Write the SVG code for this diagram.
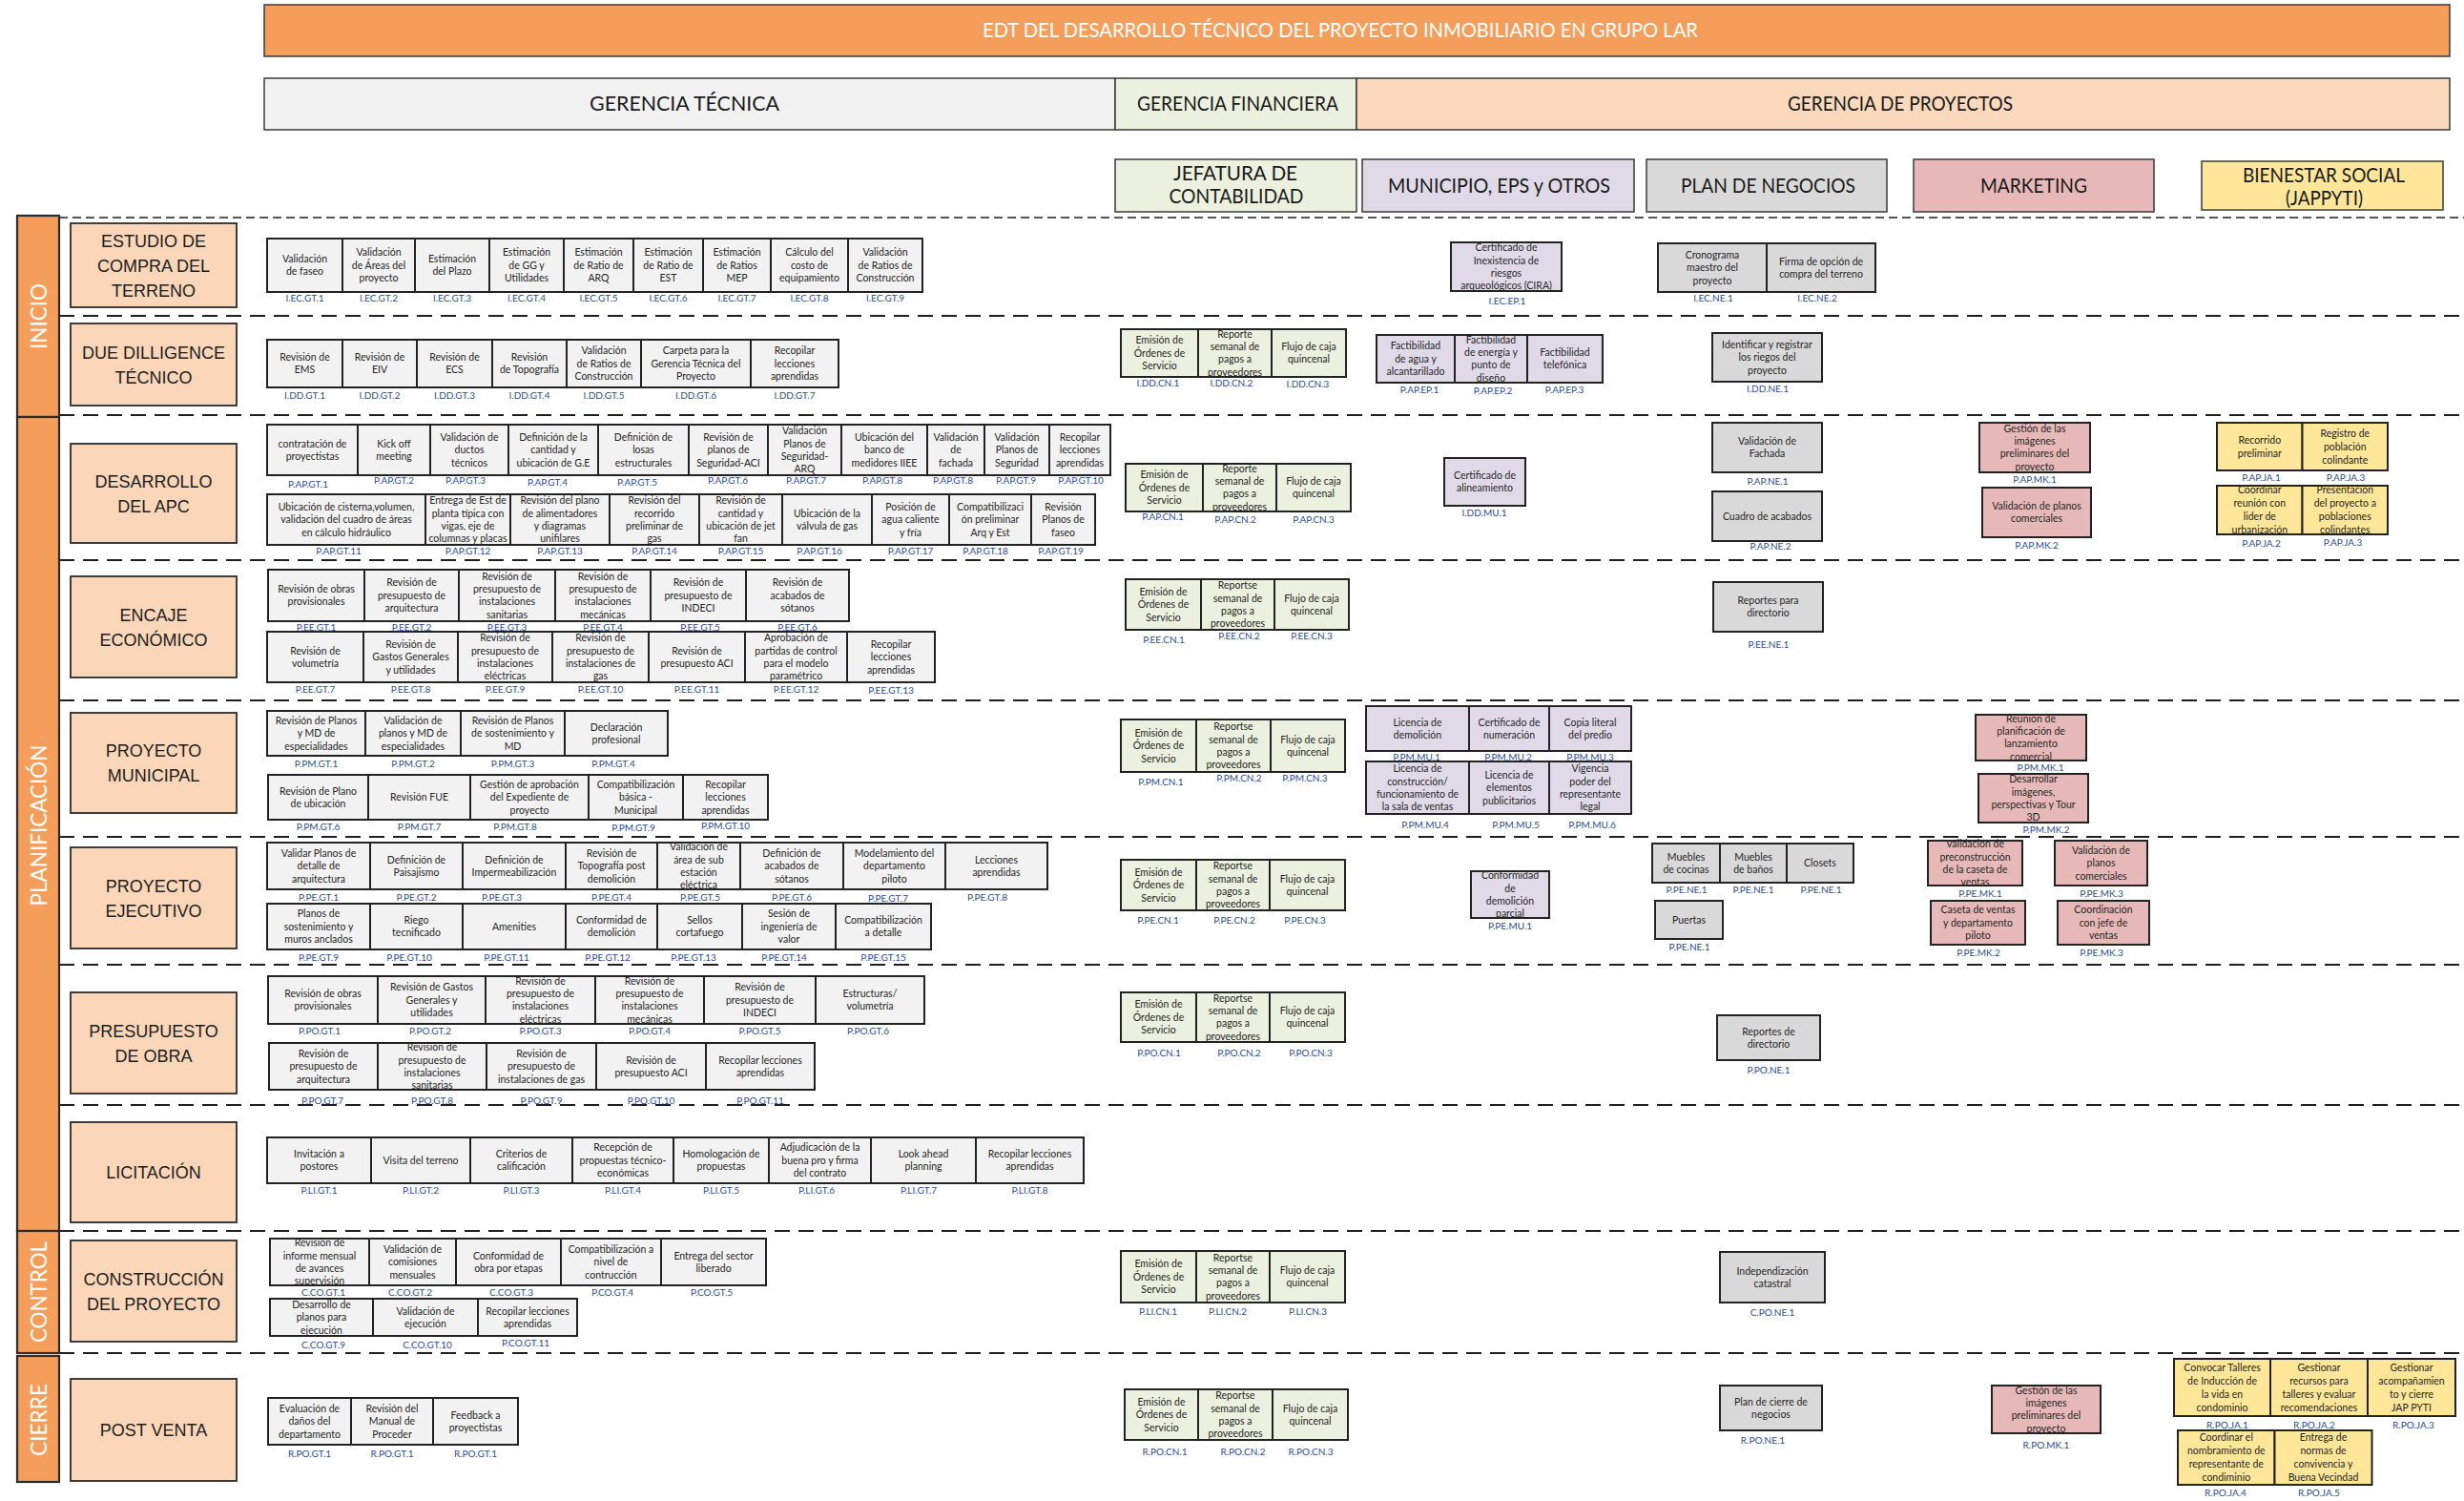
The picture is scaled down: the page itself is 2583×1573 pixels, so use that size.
<svg xmlns="http://www.w3.org/2000/svg" width="2583" height="1573" viewBox="0 0 2583 1573">
<style>
text{font-family:Lato,'Liberation Sans',sans-serif}
.lane{fill:none;stroke:#1f1f1f;stroke-width:2;stroke-dasharray:16 9}
.lane0{fill:none;stroke:#1f1f1f;stroke-width:1.6;stroke-dasharray:9 5}
.n rect{stroke:#222;stroke-width:2}
.gt rect{fill:#F2F2F2}
.cn rect{fill:#EBF1DE}
.mu rect{fill:#E0DAE8}
.ne rect{fill:#D9D9D9}
.mk rect{fill:#E6B9B8}
.ja rect{fill:#FFE699}
.t{font-size:10.5px;fill:#262626;text-anchor:middle}
.c{font-size:10px;fill:#2E4C8F;text-anchor:middle}
.bar rect{fill:#F59E5B;stroke:#2b2b2b;stroke-width:2.2}
.bar text{font-size:24px;fill:#fff;text-anchor:middle}
.ph rect{fill:#FBD6B8;stroke:#2b2b2b;stroke-width:1.8}
.ph text{font-family:'Liberation Sans',Arial,sans-serif;font-size:18px;fill:#1e1e1e;text-anchor:middle}
.hd rect{stroke:#3a3a3a;stroke-width:1.5}
.hd text{font-size:21px;fill:#1a1a1a;text-anchor:middle}
</style>
<rect width="2583" height="1573" fill="#fff"/>

<!-- headers -->
<g id="title" class="hd"><rect x="277" y="5" width="2291" height="54" fill="#F59E5B"/><text x="1405" y="39" textLength="750" lengthAdjust="spacingAndGlyphs" style="fill:#fff">EDT DEL DESARROLLO TÉCNICO DEL PROYECTO INMOBILIARIO EN GRUPO LAR</text></g>
<g id="h-gt" class="hd"><rect x="277" y="82" width="892" height="54" fill="#F2F2F2"/><text x="717.5" y="116" textLength="199" lengthAdjust="spacingAndGlyphs">GERENCIA TÉCNICA</text></g>
<g id="h-gf" class="hd"><rect x="1169" y="82" width="253" height="54" fill="#EBF1DE"/><text x="1297.5" y="116" textLength="211" lengthAdjust="spacingAndGlyphs">GERENCIA FINANCIERA</text></g>
<g id="h-gp" class="hd"><rect x="1422" y="82" width="1146" height="54" fill="#FAD9BD"/><text x="1992" y="116" textLength="236" lengthAdjust="spacingAndGlyphs">GERENCIA DE PROYECTOS</text></g>
<g id="h-cn" class="hd"><rect x="1169" y="167" width="253" height="55" fill="#EBF1DE"/><text x="1295" y="189" textLength="130" lengthAdjust="spacingAndGlyphs">JEFATURA DE</text><text x="1296" y="213" textLength="141" lengthAdjust="spacingAndGlyphs">CONTABILIDAD</text></g>
<g id="h-mu" class="hd"><rect x="1428" y="167" width="285" height="55" fill="#E0DAE8"/><text x="1571.5" y="201.5" textLength="233" lengthAdjust="spacingAndGlyphs">MUNICIPIO, EPS y OTROS</text></g>
<g id="h-ne" class="hd"><rect x="1726" y="167" width="252" height="55" fill="#D9D9D9"/><text x="1853.5" y="201.5" textLength="183" lengthAdjust="spacingAndGlyphs">PLAN DE NEGOCIOS</text></g>
<g id="h-mk" class="hd"><rect x="2006" y="167" width="252" height="55" fill="#E6B9B8"/><text x="2132" y="201.5" textLength="112" lengthAdjust="spacingAndGlyphs">MARKETING</text></g>
<g id="h-ja" class="hd"><rect x="2308" y="169" width="253" height="51" fill="#FFE699"/><text x="2436" y="190.5" textLength="170" lengthAdjust="spacingAndGlyphs">BIENESTAR SOCIAL</text><text x="2436.5" y="214.5" textLength="81" lengthAdjust="spacingAndGlyphs">(JAPPYTI)</text></g>

<!-- swimlane separators -->
<g id="lanes">
<line class="lane0" x1="62" y1="228" x2="2583" y2="228"/>
<line class="lane" x1="62" y1="331" x2="2583" y2="331"/>
<line class="lane" x1="62" y1="435" x2="2583" y2="435"/>
<line class="lane" x1="62" y1="587" x2="2583" y2="587"/>
<line class="lane" x1="62" y1="734" x2="2583" y2="734"/>
<line class="lane" x1="62" y1="877" x2="2583" y2="877"/>
<line class="lane" x1="62" y1="1011" x2="2583" y2="1011"/>
<line class="lane" x1="62" y1="1158" x2="2583" y2="1158"/>
<line class="lane" x1="62" y1="1290" x2="2583" y2="1290"/>
<line class="lane" x1="62" y1="1418" x2="2583" y2="1418"/>
</g>
<g id="connectors"/>

<!-- phase bars -->
<g id="ph-inicio" class="bar"><rect x="18" y="226" width="44" height="211"/><text transform="translate(48.5,331.5) rotate(-90)" textLength="69" lengthAdjust="spacingAndGlyphs">INICIO</text></g>
<g id="ph-planif" class="bar"><rect x="18" y="437" width="44" height="853"/><text transform="translate(48.5,865) rotate(-90)" textLength="169" lengthAdjust="spacingAndGlyphs">PLANIFICACIÓN</text></g>
<g id="ph-control" class="bar"><rect x="18" y="1290" width="44" height="128"/><text transform="translate(48.5,1354) rotate(-90)" textLength="106" lengthAdjust="spacingAndGlyphs">CONTROL</text></g>
<g id="ph-cierre" class="bar"><rect x="18" y="1421" width="44" height="132"/><text transform="translate(48.5,1488) rotate(-90)" textLength="76" lengthAdjust="spacingAndGlyphs">CIERRE</text></g>

<!-- stage labels -->
<g id="st-ec" class="ph"><rect x="74" y="234" width="174" height="88"/><text x="161" y="258.5">ESTUDIO DE</text><text x="161" y="284.5">COMPRA DEL</text><text x="161" y="310.5">TERRENO</text></g>
<g id="st-dd" class="ph"><rect x="74" y="339" width="174" height="86"/><text x="161" y="375.5">DUE DILLIGENCE</text><text x="161" y="401.5">TÉCNICO</text></g>
<g id="st-ap" class="ph"><rect x="74" y="465" width="174" height="104"/><text x="161" y="510.5">DESARROLLO</text><text x="161" y="536.5">DEL APC</text></g>
<g id="st-ee" class="ph"><rect x="74" y="604" width="174" height="106"/><text x="161" y="650.5">ENCAJE</text><text x="161" y="676.5">ECONÓMICO</text></g>
<g id="st-pm" class="ph"><rect x="74" y="747" width="174" height="105"/><text x="161" y="793">PROYECTO</text><text x="161" y="819">MUNICIPAL</text></g>
<g id="st-pe" class="ph"><rect x="74" y="888" width="174" height="106"/><text x="161" y="934.5">PROYECTO</text><text x="161" y="960.5">EJECUTIVO</text></g>
<g id="st-po" class="ph"><rect x="74" y="1040" width="174" height="106"/><text x="161" y="1086.5">PRESUPUESTO</text><text x="161" y="1112.5">DE OBRA</text></g>
<g id="st-li" class="ph"><rect x="74" y="1176" width="174" height="105"/><text x="161" y="1235">LICITACIÓN</text></g>
<g id="st-co" class="ph"><rect x="74" y="1300" width="174" height="106"/><text x="161" y="1346.5">CONSTRUCCIÓN</text><text x="161" y="1372.5">DEL PROYECTO</text></g>
<g id="st-pv" class="ph"><rect x="74" y="1445" width="174" height="107"/><text x="161" y="1505">POST VENTA</text></g>

<!-- Gerencia Técnica: estudio de compra -->
<g id="iec-gt1" class="n gt"><rect x="280" y="250" width="79" height="56"/><text class="t" x="319.5" y="281.7"><tspan x="319.5" dy="-6.6">Validación</tspan><tspan x="319.5" dy="13.3">de faseo</tspan></text><text class="c" x="319.5" y="315.5">I.EC.GT.1</text></g>
<g id="iec-gt2" class="n gt"><rect x="359" y="250" width="76" height="56"/><text class="t" x="397" y="281.7"><tspan x="397" dy="-13.3">Validación</tspan><tspan x="397" dy="13.3">de Áreas del</tspan><tspan x="397" dy="13.3">proyecto</tspan></text><text class="c" x="397" y="315.5">I.EC.GT.2</text></g>
<g id="iec-gt3" class="n gt"><rect x="435" y="250" width="78" height="56"/><text class="t" x="474" y="281.7"><tspan x="474" dy="-6.6">Estimación</tspan><tspan x="474" dy="13.3">del Plazo</tspan></text><text class="c" x="474" y="315.5">I.EC.GT.3</text></g>
<g id="iec-gt4" class="n gt"><rect x="513" y="250" width="78" height="56"/><text class="t" x="552" y="281.7"><tspan x="552" dy="-13.3">Estimación</tspan><tspan x="552" dy="13.3">de GG y</tspan><tspan x="552" dy="13.3">Utilidades</tspan></text><text class="c" x="552" y="315.5">I.EC.GT.4</text></g>
<g id="iec-gt5" class="n gt"><rect x="591" y="250" width="73" height="56"/><text class="t" x="627.5" y="281.7"><tspan x="627.5" dy="-13.3">Estimación</tspan><tspan x="627.5" dy="13.3">de Ratio de</tspan><tspan x="627.5" dy="13.3">ARQ</tspan></text><text class="c" x="627.5" y="315.5">I.EC.GT.5</text></g>
<g id="iec-gt6" class="n gt"><rect x="664" y="250" width="73" height="56"/><text class="t" x="700.5" y="281.7"><tspan x="700.5" dy="-13.3">Estimación</tspan><tspan x="700.5" dy="13.3">de Ratio de</tspan><tspan x="700.5" dy="13.3">EST</tspan></text><text class="c" x="700.5" y="315.5">I.EC.GT.6</text></g>
<g id="iec-gt7" class="n gt"><rect x="737" y="250" width="71" height="56"/><text class="t" x="772.5" y="281.7"><tspan x="772.5" dy="-13.3">Estimación</tspan><tspan x="772.5" dy="13.3">de Ratios</tspan><tspan x="772.5" dy="13.3">MEP</tspan></text><text class="c" x="772.5" y="315.5">I.EC.GT.7</text></g>
<g id="iec-gt8" class="n gt"><rect x="808" y="250" width="81" height="56"/><text class="t" x="848.5" y="281.7"><tspan x="848.5" dy="-13.3">Cálculo del</tspan><tspan x="848.5" dy="13.3">costo de</tspan><tspan x="848.5" dy="13.3">equipamiento</tspan></text><text class="c" x="848.5" y="315.5">I.EC.GT.8</text></g>
<g id="iec-gt9" class="n gt"><rect x="889" y="250" width="78" height="56"/><text class="t" x="928" y="281.7"><tspan x="928" dy="-13.3">Validación</tspan><tspan x="928" dy="13.3">de Ratios de</tspan><tspan x="928" dy="13.3">Construcción</tspan></text><text class="c" x="928" y="315.5">I.EC.GT.9</text></g>

<!-- due dilligence -->
<g id="idd-gt1" class="n gt"><rect x="280" y="356" width="79" height="50"/><text class="t" x="319.5" y="384.7"><tspan x="319.5" dy="-6.6">Revisión de</tspan><tspan x="319.5" dy="13.3">EMS</tspan></text><text class="c" x="319.5" y="418">I.DD.GT.1</text></g>
<g id="idd-gt2" class="n gt"><rect x="359" y="356" width="78" height="50"/><text class="t" x="398" y="384.7"><tspan x="398" dy="-6.6">Revisión de</tspan><tspan x="398" dy="13.3">EIV</tspan></text><text class="c" x="398" y="418">I.DD.GT.2</text></g>
<g id="idd-gt3" class="n gt"><rect x="437" y="356" width="79" height="50"/><text class="t" x="476.5" y="384.7"><tspan x="476.5" dy="-6.6">Revisión de</tspan><tspan x="476.5" dy="13.3">ECS</tspan></text><text class="c" x="476.5" y="418">I.DD.GT.3</text></g>
<g id="idd-gt4" class="n gt"><rect x="516" y="356" width="78" height="50"/><text class="t" x="555" y="384.7"><tspan x="555" dy="-6.6">Revisión</tspan><tspan x="555" dy="13.3">de Topografía</tspan></text><text class="c" x="555" y="418">I.DD.GT.4</text></g>
<g id="idd-gt5" class="n gt"><rect x="594" y="356" width="78" height="50"/><text class="t" x="633" y="384.7"><tspan x="633" dy="-13.3">Validación</tspan><tspan x="633" dy="13.3">de Ratios de</tspan><tspan x="633" dy="13.3">Construcción</tspan></text><text class="c" x="633" y="418">I.DD.GT.5</text></g>
<g id="idd-gt6" class="n gt"><rect x="672" y="356" width="115" height="50"/><text class="t" x="729.5" y="384.7"><tspan x="729.5" dy="-13.3">Carpeta para la</tspan><tspan x="729.5" dy="13.3">Gerencia Técnica del</tspan><tspan x="729.5" dy="13.3">Proyecto</tspan></text><text class="c" x="729.5" y="418">I.DD.GT.6</text></g>
<g id="idd-gt7" class="n gt"><rect x="787" y="356" width="92" height="50"/><text class="t" x="833" y="384.7"><tspan x="833" dy="-13.3">Recopilar</tspan><tspan x="833" dy="13.3">lecciones</tspan><tspan x="833" dy="13.3">aprendidas</tspan></text><text class="c" x="833" y="418">I.DD.GT.7</text></g>

<!-- desarrollo del APC -->
<g id="pap-gt1" class="n gt"><rect x="280" y="445" width="95" height="53"/><text class="t" x="327.5" y="475.2"><tspan x="327.5" dy="-6.6">contratación de</tspan><tspan x="327.5" dy="13.3">proyectistas</tspan></text><text class="c" x="323" y="511">P.AP.GT.1</text></g>
<g id="pap-gt2" class="n gt"><rect x="375" y="445" width="76" height="53"/><text class="t" x="413" y="475.2"><tspan x="413" dy="-6.6">Kick off</tspan><tspan x="413" dy="13.3">meeting</tspan></text><text class="c" x="413" y="507">P.AP.GT.2</text></g>
<g id="pap-gt3" class="n gt"><rect x="451" y="445" width="82" height="53"/><text class="t" x="492" y="475.2"><tspan x="492" dy="-13.3">Validación de</tspan><tspan x="492" dy="13.3">ductos</tspan><tspan x="492" dy="13.3">técnicos</tspan></text><text class="c" x="488" y="507">P.AP.GT.3</text></g>
<g id="pap-gt4" class="n gt"><rect x="533" y="445" width="94" height="53"/><text class="t" x="580" y="475.2"><tspan x="580" dy="-13.3">Definición de la</tspan><tspan x="580" dy="13.3">cantidad y</tspan><tspan x="580" dy="13.3">ubicación de G.E</tspan></text><text class="c" x="574" y="509">P.AP.GT.4</text></g>
<g id="pap-gt5" class="n gt"><rect x="627" y="445" width="95" height="53"/><text class="t" x="674.5" y="475.2"><tspan x="674.5" dy="-13.3">Definición de</tspan><tspan x="674.5" dy="13.3">losas</tspan><tspan x="674.5" dy="13.3">estructurales</tspan></text><text class="c" x="668" y="509">P.AP.GT.5</text></g>
<g id="pap-gt6" class="n gt"><rect x="722" y="445" width="83" height="53"/><text class="t" x="763.5" y="475.2"><tspan x="763.5" dy="-13.3">Revisión de</tspan><tspan x="763.5" dy="13.3">planos de</tspan><tspan x="763.5" dy="13.3">Seguridad-ACI</tspan></text><text class="c" x="763" y="507">P.AP.GT.6</text></g>
<g id="pap-gt7" class="n gt"><rect x="805" y="445" width="77" height="53"/><text class="t" x="843.5" y="475.2"><tspan x="843.5" dy="-20">Validación</tspan><tspan x="843.5" dy="13.3">Planos de</tspan><tspan x="843.5" dy="13.3">Seguridad-</tspan><tspan x="843.5" dy="13.3">ARQ</tspan></text><text class="c" x="845" y="507">P.AP.GT.7</text></g>
<g id="pap-gt8" class="n gt"><rect x="882" y="445" width="90" height="53"/><text class="t" x="927" y="475.2"><tspan x="927" dy="-13.3">Ubicación del</tspan><tspan x="927" dy="13.3">banco de</tspan><tspan x="927" dy="13.3">medidores IIEE</tspan></text><text class="c" x="925" y="507">P.AP.GT.8</text></g>
<g id="pap-gt8b" class="n gt"><rect x="972" y="445" width="60" height="53"/><text class="t" x="1002" y="475.2"><tspan x="1002" dy="-13.3">Validación</tspan><tspan x="1002" dy="13.3">de</tspan><tspan x="1002" dy="13.3">fachada</tspan></text><text class="c" x="999" y="507">P.AP.GT.8</text></g>
<g id="pap-gt9" class="n gt"><rect x="1032" y="445" width="68" height="53"/><text class="t" x="1066" y="475.2"><tspan x="1066" dy="-13.3">Validación</tspan><tspan x="1066" dy="13.3">Planos de</tspan><tspan x="1066" dy="13.3">Seguridad</tspan></text><text class="c" x="1065" y="507">P.AP.GT.9</text></g>
<g id="pap-gt10" class="n gt"><rect x="1100" y="445" width="64" height="53"/><text class="t" x="1132" y="475.2"><tspan x="1132" dy="-13.3">Recopilar</tspan><tspan x="1132" dy="13.3">lecciones</tspan><tspan x="1132" dy="13.3">aprendidas</tspan></text><text class="c" x="1133" y="507">P.AP.GT.10</text></g>
<g id="pap-gt11" class="n gt"><rect x="280" y="518" width="166" height="53"/><text class="t" x="363" y="548.2"><tspan x="363" dy="-13.3">Ubicación de cisterna,volumen,</tspan><tspan x="363" dy="13.3">validación del cuadro de áreas</tspan><tspan x="363" dy="13.3">en cálculo hidráulico</tspan></text><text class="c" x="355" y="581">P.AP.GT.11</text></g>
<g id="pap-gt12" class="n gt"><rect x="446" y="518" width="89" height="53"/><text class="t" x="490.5" y="548.2"><tspan x="490.5" dy="-20">Entrega de Est de</tspan><tspan x="490.5" dy="13.3">planta típica con</tspan><tspan x="490.5" dy="13.3">vigas, eje de</tspan><tspan x="490.5" dy="13.3">columnas y placas</tspan></text><text class="c" x="490.5" y="581">P.AP.GT.12</text></g>
<g id="pap-gt13" class="n gt"><rect x="535" y="518" width="104" height="53"/><text class="t" x="587" y="548.2"><tspan x="587" dy="-20">Revisión del plano</tspan><tspan x="587" dy="13.3">de alimentadores</tspan><tspan x="587" dy="13.3">y diagramas</tspan><tspan x="587" dy="13.3">unifilares</tspan></text><text class="c" x="587" y="581">P.AP.GT.13</text></g>
<g id="pap-gt14" class="n gt"><rect x="639" y="518" width="94" height="53"/><text class="t" x="686" y="548.2"><tspan x="686" dy="-20">Revisión del</tspan><tspan x="686" dy="13.3">recorrido</tspan><tspan x="686" dy="13.3">preliminar de</tspan><tspan x="686" dy="13.3">gas</tspan></text><text class="c" x="686" y="581">P.AP.GT.14</text></g>
<g id="pap-gt15" class="n gt"><rect x="733" y="518" width="87" height="53"/><text class="t" x="776.5" y="548.2"><tspan x="776.5" dy="-20">Revisión de</tspan><tspan x="776.5" dy="13.3">cantidad y</tspan><tspan x="776.5" dy="13.3">ubicación de jet</tspan><tspan x="776.5" dy="13.3">fan</tspan></text><text class="c" x="776.5" y="581">P.AP.GT.15</text></g>
<g id="pap-gt16" class="n gt"><rect x="820" y="518" width="94" height="53"/><text class="t" x="867" y="548.2"><tspan x="867" dy="-6.6">Ubicación de la</tspan><tspan x="867" dy="13.3">válvula de gas</tspan></text><text class="c" x="859" y="581">P.AP.GT.16</text></g>
<g id="pap-gt17" class="n gt"><rect x="914" y="518" width="81" height="53"/><text class="t" x="954.5" y="548.2"><tspan x="954.5" dy="-13.3">Posición de</tspan><tspan x="954.5" dy="13.3">agua caliente</tspan><tspan x="954.5" dy="13.3">y fría</tspan></text><text class="c" x="954.5" y="581">P.AP.GT.17</text></g>
<g id="pap-gt18" class="n gt"><rect x="995" y="518" width="86" height="53"/><text class="t" x="1038" y="548.2"><tspan x="1038" dy="-13.3">Compatibilizaci</tspan><tspan x="1038" dy="13.3">ón preliminar</tspan><tspan x="1038" dy="13.3">Arq y Est</tspan></text><text class="c" x="1033" y="581">P.AP.GT.18</text></g>
<g id="pap-gt19" class="n gt"><rect x="1081" y="518" width="67" height="53"/><text class="t" x="1114.5" y="548.2"><tspan x="1114.5" dy="-13.3">Revisión</tspan><tspan x="1114.5" dy="13.3">Planos de</tspan><tspan x="1114.5" dy="13.3">faseo</tspan></text><text class="c" x="1112" y="581">P.AP.GT.19</text></g>

<!-- encaje económico -->
<g id="pee-gt1" class="n gt"><rect x="281" y="597" width="101" height="54"/><text class="t" x="331.5" y="627.7"><tspan x="331.5" dy="-6.6">Revisión de obras</tspan><tspan x="331.5" dy="13.3">provisionales</tspan></text><text class="c" x="331.5" y="661">P.EE.GT.1</text></g>
<g id="pee-gt2" class="n gt"><rect x="382" y="597" width="99" height="54"/><text class="t" x="431.5" y="627.7"><tspan x="431.5" dy="-13.3">Revisión de</tspan><tspan x="431.5" dy="13.3">presupuesto de</tspan><tspan x="431.5" dy="13.3">arquitectura</tspan></text><text class="c" x="431.5" y="661">P.EE.GT.2</text></g>
<g id="pee-gt3" class="n gt"><rect x="481" y="597" width="101" height="54"/><text class="t" x="531.5" y="627.7"><tspan x="531.5" dy="-20">Revisión de</tspan><tspan x="531.5" dy="13.3">presupuesto de</tspan><tspan x="531.5" dy="13.3">instalaciones</tspan><tspan x="531.5" dy="13.3">sanitarias</tspan></text><text class="c" x="531.5" y="661">P.EE.GT.3</text></g>
<g id="pee-gt4" class="n gt"><rect x="582" y="597" width="100" height="54"/><text class="t" x="632" y="627.7"><tspan x="632" dy="-20">Revisión de</tspan><tspan x="632" dy="13.3">presupuesto de</tspan><tspan x="632" dy="13.3">instalaciones</tspan><tspan x="632" dy="13.3">mecánicas</tspan></text><text class="c" x="632" y="661">P.EE.GT.4</text></g>
<g id="pee-gt5" class="n gt"><rect x="682" y="597" width="100" height="54"/><text class="t" x="732" y="627.7"><tspan x="732" dy="-13.3">Revisión de</tspan><tspan x="732" dy="13.3">presupuesto de</tspan><tspan x="732" dy="13.3">INDECI</tspan></text><text class="c" x="734" y="661">P.EE.GT.5</text></g>
<g id="pee-gt6" class="n gt"><rect x="782" y="597" width="108" height="54"/><text class="t" x="836" y="627.7"><tspan x="836" dy="-13.3">Revisión de</tspan><tspan x="836" dy="13.3">acabados de</tspan><tspan x="836" dy="13.3">sótanos</tspan></text><text class="c" x="836" y="661">P.EE.GT.6</text></g>
<g id="pee-gt7" class="n gt"><rect x="280" y="662" width="101" height="53"/><text class="t" x="330.5" y="692.2"><tspan x="330.5" dy="-6.6">Revisión de</tspan><tspan x="330.5" dy="13.3">volumetría</tspan></text><text class="c" x="330.5" y="726">P.EE.GT.7</text></g>
<g id="pee-gt8" class="n gt"><rect x="381" y="662" width="99" height="53"/><text class="t" x="430.5" y="692.2"><tspan x="430.5" dy="-13.3">Revisión de</tspan><tspan x="430.5" dy="13.3">Gastos Generales</tspan><tspan x="430.5" dy="13.3">y utilidades</tspan></text><text class="c" x="430.5" y="726">P.EE.GT.8</text></g>
<g id="pee-gt9" class="n gt"><rect x="480" y="662" width="99" height="53"/><text class="t" x="529.5" y="692.2"><tspan x="529.5" dy="-20">Revisión de</tspan><tspan x="529.5" dy="13.3">presupuesto de</tspan><tspan x="529.5" dy="13.3">instalaciones</tspan><tspan x="529.5" dy="13.3">eléctricas</tspan></text><text class="c" x="529.5" y="726">P.EE.GT.9</text></g>
<g id="pee-gt10" class="n gt"><rect x="579" y="662" width="101" height="53"/><text class="t" x="629.5" y="692.2"><tspan x="629.5" dy="-20">Revisión de</tspan><tspan x="629.5" dy="13.3">presupuesto de</tspan><tspan x="629.5" dy="13.3">instalaciones de</tspan><tspan x="629.5" dy="13.3">gas</tspan></text><text class="c" x="629.5" y="726">P.EE.GT.10</text></g>
<g id="pee-gt11" class="n gt"><rect x="680" y="662" width="101" height="53"/><text class="t" x="730.5" y="692.2"><tspan x="730.5" dy="-6.6">Revisión de</tspan><tspan x="730.5" dy="13.3">presupuesto ACI</tspan></text><text class="c" x="730.5" y="726">P.EE.GT.11</text></g>
<g id="pee-gt12" class="n gt"><rect x="781" y="662" width="107" height="53"/><text class="t" x="834.5" y="692.2"><tspan x="834.5" dy="-20">Aprobación de</tspan><tspan x="834.5" dy="13.3">partidas de control</tspan><tspan x="834.5" dy="13.3">para el modelo</tspan><tspan x="834.5" dy="13.3">paramétrico</tspan></text><text class="c" x="834.5" y="726">P.EE.GT.12</text></g>
<g id="pee-gt13" class="n gt"><rect x="888" y="662" width="92" height="53"/><text class="t" x="934" y="692.2"><tspan x="934" dy="-13.3">Recopilar</tspan><tspan x="934" dy="13.3">lecciones</tspan><tspan x="934" dy="13.3">aprendidas</tspan></text><text class="c" x="934" y="727">P.EE.GT.13</text></g>

<!-- proyecto municipal -->
<g id="ppm-gt1" class="n gt"><rect x="280" y="745" width="103" height="47"/><text class="t" x="331.5" y="772.2"><tspan x="331.5" dy="-13.3">Revisión de Planos</tspan><tspan x="331.5" dy="13.3">y MD de</tspan><tspan x="331.5" dy="13.3">especialidades</tspan></text><text class="c" x="331.5" y="803.5">P.PM.GT.1</text></g>
<g id="ppm-gt2" class="n gt"><rect x="383" y="745" width="100" height="47"/><text class="t" x="433" y="772.2"><tspan x="433" dy="-13.3">Validación de</tspan><tspan x="433" dy="13.3">planos y MD de</tspan><tspan x="433" dy="13.3">especialidades</tspan></text><text class="c" x="433" y="803.5">P.PM.GT.2</text></g>
<g id="ppm-gt3" class="n gt"><rect x="483" y="745" width="109" height="47"/><text class="t" x="537.5" y="772.2"><tspan x="537.5" dy="-13.3">Revisión de Planos</tspan><tspan x="537.5" dy="13.3">de sostenimiento y</tspan><tspan x="537.5" dy="13.3">MD</tspan></text><text class="c" x="537.5" y="803.5">P.PM.GT.3</text></g>
<g id="ppm-gt4" class="n gt"><rect x="592" y="745" width="108" height="47"/><text class="t" x="646" y="772.2"><tspan x="646" dy="-6.6">Declaración</tspan><tspan x="646" dy="13.3">profesional</tspan></text><text class="c" x="643" y="803.5">P.PM.GT.4</text></g>
<g id="ppm-gt6" class="n gt"><rect x="281" y="812" width="105" height="47"/><text class="t" x="333.5" y="839.2"><tspan x="333.5" dy="-6.6">Revisión de Plano</tspan><tspan x="333.5" dy="13.3">de ubicación</tspan></text><text class="c" x="333.5" y="870">P.PM.GT.6</text></g>
<g id="ppm-gt7" class="n gt"><rect x="386" y="812" width="107" height="47"/><text class="t" x="439.5" y="839.2">Revisión FUE</text><text class="c" x="439.5" y="870">P.PM.GT.7</text></g>
<g id="ppm-gt8" class="n gt"><rect x="493" y="812" width="124" height="47"/><text class="t" x="555" y="839.2"><tspan x="555" dy="-13.3">Gestión de aprobación</tspan><tspan x="555" dy="13.3">del Expediente de</tspan><tspan x="555" dy="13.3">proyecto</tspan></text><text class="c" x="540" y="870">P.PM.GT.8</text></g>
<g id="ppm-gt9" class="n gt"><rect x="617" y="812" width="99" height="47"/><text class="t" x="666.5" y="839.2"><tspan x="666.5" dy="-13.3">Compatibilización</tspan><tspan x="666.5" dy="13.3">básica -</tspan><tspan x="666.5" dy="13.3">Municipal</tspan></text><text class="c" x="664" y="871">P.PM.GT.9</text></g>
<g id="ppm-gt10" class="n gt"><rect x="716" y="812" width="89" height="47"/><text class="t" x="760.5" y="839.2"><tspan x="760.5" dy="-13.3">Recopilar</tspan><tspan x="760.5" dy="13.3">lecciones</tspan><tspan x="760.5" dy="13.3">aprendidas</tspan></text><text class="c" x="760.5" y="869">P.PM.GT.10</text></g>

<!-- proyecto ejecutivo -->
<g id="ppe-gt1" class="n gt"><rect x="280" y="883" width="108" height="49"/><text class="t" x="334" y="911.2"><tspan x="334" dy="-13.3">Validar Planos de</tspan><tspan x="334" dy="13.3">detalle de</tspan><tspan x="334" dy="13.3">arquitectura</tspan></text><text class="c" x="334" y="943.5">P.PE.GT.1</text></g>
<g id="ppe-gt2" class="n gt"><rect x="388" y="883" width="97" height="49"/><text class="t" x="436.5" y="911.2"><tspan x="436.5" dy="-6.6">Definición de</tspan><tspan x="436.5" dy="13.3">Paisajismo</tspan></text><text class="c" x="436.5" y="943.5">P.PE.GT.2</text></g>
<g id="ppe-gt3" class="n gt"><rect x="485" y="883" width="108" height="49"/><text class="t" x="539" y="911.2"><tspan x="539" dy="-6.6">Definición de</tspan><tspan x="539" dy="13.3">Impermeabilización</tspan></text><text class="c" x="526" y="943.5">P.PE.GT.3</text></g>
<g id="ppe-gt4" class="n gt"><rect x="593" y="883" width="96" height="49"/><text class="t" x="641" y="911.2"><tspan x="641" dy="-13.3">Revisión de</tspan><tspan x="641" dy="13.3">Topografía post</tspan><tspan x="641" dy="13.3">demolición</tspan></text><text class="c" x="641" y="943.5">P.PE.GT.4</text></g>
<g id="ppe-gt5" class="n gt"><rect x="689" y="883" width="87" height="49"/><text class="t" x="732.5" y="911.2"><tspan x="732.5" dy="-20">Validación de</tspan><tspan x="732.5" dy="13.3">área de sub</tspan><tspan x="732.5" dy="13.3">estación</tspan><tspan x="732.5" dy="13.3">eléctrica</tspan></text><text class="c" x="734" y="943.5">P.PE.GT.5</text></g>
<g id="ppe-gt6" class="n gt"><rect x="776" y="883" width="108" height="49"/><text class="t" x="830" y="911.2"><tspan x="830" dy="-13.3">Definición de</tspan><tspan x="830" dy="13.3">acabados de</tspan><tspan x="830" dy="13.3">sótanos</tspan></text><text class="c" x="830" y="943.5">P.PE.GT.6</text></g>
<g id="ppe-gt7" class="n gt"><rect x="884" y="883" width="107" height="49"/><text class="t" x="937.5" y="911.2"><tspan x="937.5" dy="-13.3">Modelamiento del</tspan><tspan x="937.5" dy="13.3">departamento</tspan><tspan x="937.5" dy="13.3">piloto</tspan></text><text class="c" x="931" y="944.5">P.PE.GT.7</text></g>
<g id="ppe-gt8" class="n gt"><rect x="991" y="883" width="107" height="49"/><text class="t" x="1044.5" y="911.2"><tspan x="1044.5" dy="-6.6">Lecciones</tspan><tspan x="1044.5" dy="13.3">aprendidas</tspan></text><text class="c" x="1035" y="943.5">P.PE.GT.8</text></g>
<g id="ppe-gt9" class="n gt"><rect x="280" y="947" width="108" height="48"/><text class="t" x="334" y="974.7"><tspan x="334" dy="-13.3">Planos de</tspan><tspan x="334" dy="13.3">sostenimiento y</tspan><tspan x="334" dy="13.3">muros anclados</tspan></text><text class="c" x="334" y="1007">P.PE.GT.9</text></g>
<g id="ppe-gt10" class="n gt"><rect x="388" y="947" width="97" height="48"/><text class="t" x="436.5" y="974.7"><tspan x="436.5" dy="-6.6">Riego</tspan><tspan x="436.5" dy="13.3">tecnificado</tspan></text><text class="c" x="429" y="1007">P.PE.GT.10</text></g>
<g id="ppe-gt11" class="n gt"><rect x="485" y="947" width="108" height="48"/><text class="t" x="539" y="974.7">Amenities</text><text class="c" x="531" y="1007">P.PE.GT.11</text></g>
<g id="ppe-gt12" class="n gt"><rect x="593" y="947" width="96" height="48"/><text class="t" x="641" y="974.7"><tspan x="641" dy="-6.6">Conformidad de</tspan><tspan x="641" dy="13.3">demolición</tspan></text><text class="c" x="637" y="1007">P.PE.GT.12</text></g>
<g id="ppe-gt13" class="n gt"><rect x="689" y="947" width="89" height="48"/><text class="t" x="733.5" y="974.7"><tspan x="733.5" dy="-6.6">Sellos</tspan><tspan x="733.5" dy="13.3">cortafuego</tspan></text><text class="c" x="727" y="1007">P.PE.GT.13</text></g>
<g id="ppe-gt14" class="n gt"><rect x="778" y="947" width="98" height="48"/><text class="t" x="827" y="974.7"><tspan x="827" dy="-13.3">Sesión de</tspan><tspan x="827" dy="13.3">ingeniería de</tspan><tspan x="827" dy="13.3">valor</tspan></text><text class="c" x="822" y="1007">P.PE.GT.14</text></g>
<g id="ppe-gt15" class="n gt"><rect x="876" y="947" width="100" height="48"/><text class="t" x="926" y="974.7"><tspan x="926" dy="-6.6">Compatibilización</tspan><tspan x="926" dy="13.3">a detalle</tspan></text><text class="c" x="926" y="1007">P.PE.GT.15</text></g>

<!-- presupuesto de obra -->
<g id="ppo-gt1" class="n gt"><rect x="281" y="1023" width="115" height="50"/><text class="t" x="338.5" y="1051.7"><tspan x="338.5" dy="-6.6">Revisión de obras</tspan><tspan x="338.5" dy="13.3">provisionales</tspan></text><text class="c" x="335" y="1084">P.PO.GT.1</text></g>
<g id="ppo-gt2" class="n gt"><rect x="396" y="1023" width="113" height="50"/><text class="t" x="452.5" y="1051.7"><tspan x="452.5" dy="-13.3">Revisión de Gastos</tspan><tspan x="452.5" dy="13.3">Generales y</tspan><tspan x="452.5" dy="13.3">utilidades</tspan></text><text class="c" x="451" y="1084">P.PO.GT.2</text></g>
<g id="ppo-gt3" class="n gt"><rect x="509" y="1023" width="115" height="50"/><text class="t" x="566.5" y="1051.7"><tspan x="566.5" dy="-20">Revisión de</tspan><tspan x="566.5" dy="13.3">presupuesto de</tspan><tspan x="566.5" dy="13.3">instalaciones</tspan><tspan x="566.5" dy="13.3">eléctricas</tspan></text><text class="c" x="566.5" y="1084">P.PO.GT.3</text></g>
<g id="ppo-gt4" class="n gt"><rect x="624" y="1023" width="114" height="50"/><text class="t" x="681" y="1051.7"><tspan x="681" dy="-20">Revisión de</tspan><tspan x="681" dy="13.3">presupuesto de</tspan><tspan x="681" dy="13.3">instalaciones</tspan><tspan x="681" dy="13.3">mecánicas</tspan></text><text class="c" x="681" y="1084">P.PO.GT.4</text></g>
<g id="ppo-gt5" class="n gt"><rect x="738" y="1023" width="117" height="50"/><text class="t" x="796.5" y="1051.7"><tspan x="796.5" dy="-13.3">Revisión de</tspan><tspan x="796.5" dy="13.3">presupuesto de</tspan><tspan x="796.5" dy="13.3">INDECI</tspan></text><text class="c" x="796.5" y="1084">P.PO.GT.5</text></g>
<g id="ppo-gt6" class="n gt"><rect x="855" y="1023" width="114" height="50"/><text class="t" x="912" y="1051.7"><tspan x="912" dy="-6.6">Estructuras/</tspan><tspan x="912" dy="13.3">volumetría</tspan></text><text class="c" x="910" y="1084">P.PO.GT.6</text></g>
<g id="ppo-gt7" class="n gt"><rect x="282" y="1093" width="114" height="49"/><text class="t" x="339" y="1121.2"><tspan x="339" dy="-13.3">Revisión de</tspan><tspan x="339" dy="13.3">presupuesto de</tspan><tspan x="339" dy="13.3">arquitectura</tspan></text><text class="c" x="338" y="1156.5">P.PO.GT.7</text></g>
<g id="ppo-gt8" class="n gt"><rect x="396" y="1093" width="114" height="49"/><text class="t" x="453" y="1121.2"><tspan x="453" dy="-20">Revisión de</tspan><tspan x="453" dy="13.3">presupuesto de</tspan><tspan x="453" dy="13.3">instalaciones</tspan><tspan x="453" dy="13.3">sanitarias</tspan></text><text class="c" x="453" y="1156.5">P.PO.GT.8</text></g>
<g id="ppo-gt9" class="n gt"><rect x="510" y="1093" width="115" height="49"/><text class="t" x="567.5" y="1121.2"><tspan x="567.5" dy="-13.3">Revisión de</tspan><tspan x="567.5" dy="13.3">presupuesto de</tspan><tspan x="567.5" dy="13.3">instalaciones de gas</tspan></text><text class="c" x="567.5" y="1156.5">P.PO.GT.9</text></g>
<g id="ppo-gt10" class="n gt"><rect x="625" y="1093" width="115" height="49"/><text class="t" x="682.5" y="1121.2"><tspan x="682.5" dy="-6.6">Revisión de</tspan><tspan x="682.5" dy="13.3">presupuesto ACI</tspan></text><text class="c" x="682.5" y="1156.5">P.PO.GT.10</text></g>
<g id="ppo-gt11" class="n gt"><rect x="740" y="1093" width="114" height="49"/><text class="t" x="797" y="1121.2"><tspan x="797" dy="-6.6">Recopilar lecciones</tspan><tspan x="797" dy="13.3">aprendidas</tspan></text><text class="c" x="797" y="1156.5">P.PO.GT.11</text></g>

<!-- licitación -->
<g id="pli-gt1" class="n gt"><rect x="280" y="1192" width="109" height="48"/><text class="t" x="334.5" y="1219.7"><tspan x="334.5" dy="-6.6">Invitación a</tspan><tspan x="334.5" dy="13.3">postores</tspan></text><text class="c" x="334.5" y="1250.5">P.LI.GT.1</text></g>
<g id="pli-gt2" class="n gt"><rect x="389" y="1192" width="104" height="48"/><text class="t" x="441" y="1219.7">Visita del terreno</text><text class="c" x="441" y="1250.5">P.LI.GT.2</text></g>
<g id="pli-gt3" class="n gt"><rect x="493" y="1192" width="107" height="48"/><text class="t" x="546.5" y="1219.7"><tspan x="546.5" dy="-6.6">Criterios de</tspan><tspan x="546.5" dy="13.3">calificación</tspan></text><text class="c" x="546.5" y="1250.5">P.LI.GT.3</text></g>
<g id="pli-gt4" class="n gt"><rect x="600" y="1192" width="106" height="48"/><text class="t" x="653" y="1219.7"><tspan x="653" dy="-13.3">Recepción de</tspan><tspan x="653" dy="13.3">propuestas técnico-</tspan><tspan x="653" dy="13.3">económicas</tspan></text><text class="c" x="653" y="1250.5">P.LI.GT.4</text></g>
<g id="pli-gt5" class="n gt"><rect x="706" y="1192" width="100" height="48"/><text class="t" x="756" y="1219.7"><tspan x="756" dy="-6.6">Homologación de</tspan><tspan x="756" dy="13.3">propuestas</tspan></text><text class="c" x="756" y="1250.5">P.LI.GT.5</text></g>
<g id="pli-gt6" class="n gt"><rect x="806" y="1192" width="107" height="48"/><text class="t" x="859.5" y="1219.7"><tspan x="859.5" dy="-13.3">Adjudicación de la</tspan><tspan x="859.5" dy="13.3">buena pro y firma</tspan><tspan x="859.5" dy="13.3">del contrato</tspan></text><text class="c" x="856" y="1250.5">P.LI.GT.6</text></g>
<g id="pli-gt7" class="n gt"><rect x="913" y="1192" width="110" height="48"/><text class="t" x="968" y="1219.7"><tspan x="968" dy="-6.6">Look ahead</tspan><tspan x="968" dy="13.3">planning</tspan></text><text class="c" x="963" y="1250.5">P.LI.GT.7</text></g>
<g id="pli-gt8" class="n gt"><rect x="1023" y="1192" width="113" height="48"/><text class="t" x="1079.5" y="1219.7"><tspan x="1079.5" dy="-6.6">Recopilar lecciones</tspan><tspan x="1079.5" dy="13.3">aprendidas</tspan></text><text class="c" x="1079.5" y="1250.5">P.LI.GT.8</text></g>

<!-- construcción del proyecto -->
<g id="cco-gt1" class="n gt"><rect x="283" y="1298" width="104" height="49"/><text class="t" x="335" y="1326.2"><tspan x="335" dy="-20">Revisión de</tspan><tspan x="335" dy="13.3">informe mensual</tspan><tspan x="335" dy="13.3">de avances</tspan><tspan x="335" dy="13.3">supervisión</tspan></text><text class="c" x="339" y="1357.5">C.CO.GT.1</text></g>
<g id="cco-gt2" class="n gt"><rect x="387" y="1298" width="91" height="49"/><text class="t" x="432.5" y="1326.2"><tspan x="432.5" dy="-13.3">Validación de</tspan><tspan x="432.5" dy="13.3">comisiones</tspan><tspan x="432.5" dy="13.3">mensuales</tspan></text><text class="c" x="430" y="1357.5">C.CO.GT.2</text></g>
<g id="cco-gt3" class="n gt"><rect x="478" y="1298" width="110" height="49"/><text class="t" x="533" y="1326.2"><tspan x="533" dy="-6.6">Conformidad de</tspan><tspan x="533" dy="13.3">obra por etapas</tspan></text><text class="c" x="536" y="1357.5">C.CO.GT.3</text></g>
<g id="cco-gt4" class="n gt"><rect x="588" y="1298" width="105" height="49"/><text class="t" x="640.5" y="1326.2"><tspan x="640.5" dy="-13.3">Compatibilización a</tspan><tspan x="640.5" dy="13.3">nivel de</tspan><tspan x="640.5" dy="13.3">contrucción</tspan></text><text class="c" x="642" y="1357.5">P.CO.GT.4</text></g>
<g id="cco-gt5" class="n gt"><rect x="693" y="1298" width="110" height="49"/><text class="t" x="748" y="1326.2"><tspan x="748" dy="-6.6">Entrega del sector</tspan><tspan x="748" dy="13.3">liberado</tspan></text><text class="c" x="746" y="1357.5">P.CO.GT.5</text></g>
<g id="cco-gt9" class="n gt"><rect x="283" y="1361" width="108" height="39"/><text class="t" x="337" y="1384.2"><tspan x="337" dy="-13.3">Desarrollo de</tspan><tspan x="337" dy="13.3">planos para</tspan><tspan x="337" dy="13.3">ejecución</tspan></text><text class="c" x="339" y="1412.5">C.CO.GT.9</text></g>
<g id="cco-gt10" class="n gt"><rect x="391" y="1361" width="110" height="39"/><text class="t" x="446" y="1384.2"><tspan x="446" dy="-6.6">Validación de</tspan><tspan x="446" dy="13.3">ejecución</tspan></text><text class="c" x="448" y="1412.5">C.CO.GT.10</text></g>
<g id="cco-gt11" class="n gt"><rect x="501" y="1361" width="104" height="39"/><text class="t" x="553" y="1384.2"><tspan x="553" dy="-6.6">Recopilar lecciones</tspan><tspan x="553" dy="13.3">aprendidas</tspan></text><text class="c" x="551" y="1410.5">P.CO.GT.11</text></g>

<!-- post venta -->
<g id="rpo-gt1" class="n gt"><rect x="281" y="1465" width="87" height="49"/><text class="t" x="324.5" y="1493.2"><tspan x="324.5" dy="-13.3">Evaluación de</tspan><tspan x="324.5" dy="13.3">daños del</tspan><tspan x="324.5" dy="13.3">departamento</tspan></text><text class="c" x="324.5" y="1527">R.PO.GT.1</text></g>
<g id="rpo-gt1b" class="n gt"><rect x="368" y="1465" width="86" height="49"/><text class="t" x="411" y="1493.2"><tspan x="411" dy="-13.3">Revisión del</tspan><tspan x="411" dy="13.3">Manual de</tspan><tspan x="411" dy="13.3">Proceder</tspan></text><text class="c" x="411" y="1527">R.PO.GT.1</text></g>
<g id="rpo-gt1c" class="n gt"><rect x="454" y="1465" width="89" height="49"/><text class="t" x="498.5" y="1493.2"><tspan x="498.5" dy="-6.6">Feedback a</tspan><tspan x="498.5" dy="13.3">proyectistas</tspan></text><text class="c" x="498.5" y="1527">R.PO.GT.1</text></g>

<!-- Jefatura de contabilidad -->
<g id="idd-cn1" class="n cn"><rect x="1175" y="345" width="81" height="50"/><text class="t" x="1215.5" y="373.7"><tspan x="1215.5" dy="-13.3">Emisión de</tspan><tspan x="1215.5" dy="13.3">Órdenes de</tspan><tspan x="1215.5" dy="13.3">Servicio</tspan></text><text class="c" x="1214" y="404.5">I.DD.CN.1</text></g>
<g id="idd-cn2" class="n cn"><rect x="1256" y="345" width="77" height="50"/><text class="t" x="1294.5" y="373.7"><tspan x="1294.5" dy="-20">Reporte</tspan><tspan x="1294.5" dy="13.3">semanal de</tspan><tspan x="1294.5" dy="13.3">pagos a</tspan><tspan x="1294.5" dy="13.3">proveedores</tspan></text><text class="c" x="1291" y="404.5">I.DD.CN.2</text></g>
<g id="idd-cn3" class="n cn"><rect x="1333" y="345" width="78" height="50"/><text class="t" x="1372" y="373.7"><tspan x="1372" dy="-6.6">Flujo de caja</tspan><tspan x="1372" dy="13.3">quincenal</tspan></text><text class="c" x="1371" y="405.5">I.DD.CN.3</text></g>

<g id="pap-cn1" class="n cn"><rect x="1180" y="486" width="81" height="50"/><text class="t" x="1220.5" y="514.7"><tspan x="1220.5" dy="-13.3">Emisión de</tspan><tspan x="1220.5" dy="13.3">Órdenes de</tspan><tspan x="1220.5" dy="13.3">Servicio</tspan></text><text class="c" x="1219" y="544.5">P.AP.CN.1</text></g>
<g id="pap-cn2" class="n cn"><rect x="1261" y="486" width="77" height="50"/><text class="t" x="1299.5" y="514.7"><tspan x="1299.5" dy="-20">Reporte</tspan><tspan x="1299.5" dy="13.3">semanal de</tspan><tspan x="1299.5" dy="13.3">pagos a</tspan><tspan x="1299.5" dy="13.3">proveedores</tspan></text><text class="c" x="1295" y="547.5">P.AP.CN.2</text></g>
<g id="pap-cn3" class="n cn"><rect x="1338" y="486" width="78" height="50"/><text class="t" x="1377" y="514.7"><tspan x="1377" dy="-6.6">Flujo de caja</tspan><tspan x="1377" dy="13.3">quincenal</tspan></text><text class="c" x="1377" y="547.5">P.AP.CN.3</text></g>

<g id="pee-cn1" class="n cn"><rect x="1180" y="607" width="79" height="53"/><text class="t" x="1219.5" y="637.2"><tspan x="1219.5" dy="-13.3">Emisión de</tspan><tspan x="1219.5" dy="13.3">Órdenes de</tspan><tspan x="1219.5" dy="13.3">Servicio</tspan></text><text class="c" x="1220" y="673.5">P.EE.CN.1</text></g>
<g id="pee-cn2" class="n cn"><rect x="1259" y="607" width="77" height="53"/><text class="t" x="1297.5" y="637.2"><tspan x="1297.5" dy="-20">Reportse</tspan><tspan x="1297.5" dy="13.3">semanal de</tspan><tspan x="1297.5" dy="13.3">pagos a</tspan><tspan x="1297.5" dy="13.3">proveedores</tspan></text><text class="c" x="1299" y="670">P.EE.CN.2</text></g>
<g id="pee-cn3" class="n cn"><rect x="1336" y="607" width="78" height="53"/><text class="t" x="1375" y="637.2"><tspan x="1375" dy="-6.6">Flujo de caja</tspan><tspan x="1375" dy="13.3">quincenal</tspan></text><text class="c" x="1375" y="670">P.EE.CN.3</text></g>

<g id="ppm-cn1" class="n cn"><rect x="1175" y="754" width="79" height="55"/><text class="t" x="1214.5" y="785.2"><tspan x="1214.5" dy="-13.3">Emisión de</tspan><tspan x="1214.5" dy="13.3">Órdenes de</tspan><tspan x="1214.5" dy="13.3">Servicio</tspan></text><text class="c" x="1217" y="822.5">P.PM.CN.1</text></g>
<g id="ppm-cn2" class="n cn"><rect x="1254" y="754" width="78" height="55"/><text class="t" x="1293" y="785.2"><tspan x="1293" dy="-20">Reportse</tspan><tspan x="1293" dy="13.3">semanal de</tspan><tspan x="1293" dy="13.3">pagos a</tspan><tspan x="1293" dy="13.3">proveedores</tspan></text><text class="c" x="1299" y="818.5">P.PM.CN.2</text></g>
<g id="ppm-cn3" class="n cn"><rect x="1332" y="754" width="78" height="55"/><text class="t" x="1371" y="785.2"><tspan x="1371" dy="-6.6">Flujo de caja</tspan><tspan x="1371" dy="13.3">quincenal</tspan></text><text class="c" x="1368" y="818.5">P.PM.CN.3</text></g>

<g id="ppe-cn1" class="n cn"><rect x="1175" y="901" width="79" height="53"/><text class="t" x="1214.5" y="931.2"><tspan x="1214.5" dy="-13.3">Emisión de</tspan><tspan x="1214.5" dy="13.3">Órdenes de</tspan><tspan x="1214.5" dy="13.3">Servicio</tspan></text><text class="c" x="1214" y="967.5">P.PE.CN.1</text></g>
<g id="ppe-cn2" class="n cn"><rect x="1254" y="901" width="77" height="53"/><text class="t" x="1292.5" y="931.2"><tspan x="1292.5" dy="-20">Reportse</tspan><tspan x="1292.5" dy="13.3">semanal de</tspan><tspan x="1292.5" dy="13.3">pagos a</tspan><tspan x="1292.5" dy="13.3">proveedores</tspan></text><text class="c" x="1294" y="967.5">P.PE.CN.2</text></g>
<g id="ppe-cn3" class="n cn"><rect x="1331" y="901" width="79" height="53"/><text class="t" x="1370.5" y="931.2"><tspan x="1370.5" dy="-6.6">Flujo de caja</tspan><tspan x="1370.5" dy="13.3">quincenal</tspan></text><text class="c" x="1368" y="967.5">P.PE.CN.3</text></g>

<g id="ppo-cn1" class="n cn"><rect x="1175" y="1040" width="79" height="52"/><text class="t" x="1214.5" y="1069.7"><tspan x="1214.5" dy="-13.3">Emisión de</tspan><tspan x="1214.5" dy="13.3">Órdenes de</tspan><tspan x="1214.5" dy="13.3">Servicio</tspan></text><text class="c" x="1215" y="1106.5">P.PO.CN.1</text></g>
<g id="ppo-cn2" class="n cn"><rect x="1254" y="1040" width="77" height="52"/><text class="t" x="1292.5" y="1069.7"><tspan x="1292.5" dy="-20">Reportse</tspan><tspan x="1292.5" dy="13.3">semanal de</tspan><tspan x="1292.5" dy="13.3">pagos a</tspan><tspan x="1292.5" dy="13.3">proveedores</tspan></text><text class="c" x="1299" y="1106.5">P.PO.CN.2</text></g>
<g id="ppo-cn3" class="n cn"><rect x="1331" y="1040" width="79" height="52"/><text class="t" x="1370.5" y="1069.7"><tspan x="1370.5" dy="-6.6">Flujo de caja</tspan><tspan x="1370.5" dy="13.3">quincenal</tspan></text><text class="c" x="1374" y="1106.5">P.PO.CN.3</text></g>

<g id="pli-cn1" class="n cn"><rect x="1175" y="1311" width="79" height="54"/><text class="t" x="1214.5" y="1341.7"><tspan x="1214.5" dy="-13.3">Emisión de</tspan><tspan x="1214.5" dy="13.3">Órdenes de</tspan><tspan x="1214.5" dy="13.3">Servicio</tspan></text><text class="c" x="1214" y="1378">P.LI.CN.1</text></g>
<g id="pli-cn2" class="n cn"><rect x="1254" y="1311" width="77" height="54"/><text class="t" x="1292.5" y="1341.7"><tspan x="1292.5" dy="-20">Reportse</tspan><tspan x="1292.5" dy="13.3">semanal de</tspan><tspan x="1292.5" dy="13.3">pagos a</tspan><tspan x="1292.5" dy="13.3">proveedores</tspan></text><text class="c" x="1287" y="1378">P.LI.CN.2</text></g>
<g id="pli-cn3" class="n cn"><rect x="1331" y="1311" width="79" height="54"/><text class="t" x="1370.5" y="1341.7"><tspan x="1370.5" dy="-6.6">Flujo de caja</tspan><tspan x="1370.5" dy="13.3">quincenal</tspan></text><text class="c" x="1371" y="1378">P.LI.CN.3</text></g>

<g id="rpo-cn1" class="n cn"><rect x="1179" y="1456" width="77" height="53"/><text class="t" x="1217.5" y="1486.2"><tspan x="1217.5" dy="-13.3">Emisión de</tspan><tspan x="1217.5" dy="13.3">Órdenes de</tspan><tspan x="1217.5" dy="13.3">Servicio</tspan></text><text class="c" x="1221" y="1524.5">R.PO.CN.1</text></g>
<g id="rpo-cn2" class="n cn"><rect x="1256" y="1456" width="78" height="53"/><text class="t" x="1295" y="1486.2"><tspan x="1295" dy="-20">Reportse</tspan><tspan x="1295" dy="13.3">semanal de</tspan><tspan x="1295" dy="13.3">pagos a</tspan><tspan x="1295" dy="13.3">proveedores</tspan></text><text class="c" x="1303" y="1524.5">R.PO.CN.2</text></g>
<g id="rpo-cn3" class="n cn"><rect x="1334" y="1456" width="79" height="53"/><text class="t" x="1373.5" y="1486.2"><tspan x="1373.5" dy="-6.6">Flujo de caja</tspan><tspan x="1373.5" dy="13.3">quincenal</tspan></text><text class="c" x="1374" y="1524.5">R.PO.CN.3</text></g>

<!-- Municipio, EPS y otros -->
<g id="iec-ep1" class="n mu"><rect x="1521" y="254" width="116" height="51"/><text class="t" x="1579" y="283.2"><tspan x="1579" dy="-20">Certificado de</tspan><tspan x="1579" dy="13.3">Inexistencia de</tspan><tspan x="1579" dy="13.3">riesgos</tspan><tspan x="1579" dy="13.3">arqueológicos (CIRA)</tspan></text><text class="c" x="1580" y="319">I.EC.EP.1</text></g>
<g id="pap-ep1" class="n mu"><rect x="1443" y="351" width="82" height="50"/><text class="t" x="1484" y="379.7"><tspan x="1484" dy="-13.3">Factibilidad</tspan><tspan x="1484" dy="13.3">de agua y</tspan><tspan x="1484" dy="13.3">alcantarillado</tspan></text><text class="c" x="1488" y="412">P.AP.EP.1</text></g>
<g id="pap-ep2" class="n mu"><rect x="1525" y="351" width="76" height="50"/><text class="t" x="1563" y="379.7"><tspan x="1563" dy="-20">Factibilidad</tspan><tspan x="1563" dy="13.3">de energía y</tspan><tspan x="1563" dy="13.3">punto de</tspan><tspan x="1563" dy="13.3">diseño</tspan></text><text class="c" x="1565" y="413">P.AP.EP.2</text></g>
<g id="pap-ep3" class="n mu"><rect x="1601" y="351" width="79" height="50"/><text class="t" x="1640.5" y="379.7"><tspan x="1640.5" dy="-6.6">Factibilidad</tspan><tspan x="1640.5" dy="13.3">telefónica</tspan></text><text class="c" x="1640" y="412">P.AP.EP.3</text></g>
<g id="idd-mu1" class="n mu"><rect x="1514" y="480" width="85" height="50"/><text class="t" x="1556.5" y="508.7"><tspan x="1556.5" dy="-6.6">Certificado de</tspan><tspan x="1556.5" dy="13.3">alineamiento</tspan></text><text class="c" x="1556" y="540.5">I.DD.MU.1</text></g>
<g id="ppm-mu1" class="n mu"><rect x="1432" y="740" width="108" height="47"/><text class="t" x="1486" y="767.2"><tspan x="1486" dy="-6.6">Licencia de</tspan><tspan x="1486" dy="13.3">demolición</tspan></text><text class="c" x="1485" y="796.5">P.PM.MU.1</text></g>
<g id="ppm-mu2" class="n mu"><rect x="1540" y="740" width="84" height="47"/><text class="t" x="1582" y="767.2"><tspan x="1582" dy="-6.6">Certificado de</tspan><tspan x="1582" dy="13.3">numeración</tspan></text><text class="c" x="1581" y="796.5">P.PM.MU.2</text></g>
<g id="ppm-mu3" class="n mu"><rect x="1624" y="740" width="86" height="47"/><text class="t" x="1667" y="767.2"><tspan x="1667" dy="-6.6">Copia literal</tspan><tspan x="1667" dy="13.3">del predio</tspan></text><text class="c" x="1667" y="796.5">P.PM.MU.3</text></g>
<g id="ppm-mu4" class="n mu"><rect x="1432" y="798" width="108" height="55"/><text class="t" x="1486" y="829.2"><tspan x="1486" dy="-20">Licencia de</tspan><tspan x="1486" dy="13.3">construcción/</tspan><tspan x="1486" dy="13.3">funcionamiento de</tspan><tspan x="1486" dy="13.3">la sala de ventas</tspan></text><text class="c" x="1494" y="867.5">P.PM.MU.4</text></g>
<g id="ppm-mu5" class="n mu"><rect x="1540" y="798" width="84" height="55"/><text class="t" x="1582" y="829.2"><tspan x="1582" dy="-13.3">Licencia de</tspan><tspan x="1582" dy="13.3">elementos</tspan><tspan x="1582" dy="13.3">publicitarios</tspan></text><text class="c" x="1589" y="867.5">P.PM.MU.5</text></g>
<g id="ppm-mu6" class="n mu"><rect x="1624" y="798" width="86" height="55"/><text class="t" x="1667" y="829.2"><tspan x="1667" dy="-20">Vigencia</tspan><tspan x="1667" dy="13.3">poder del</tspan><tspan x="1667" dy="13.3">representante</tspan><tspan x="1667" dy="13.3">legal</tspan></text><text class="c" x="1669" y="867.5">P.PM.MU.6</text></g>
<g id="ppe-mu1" class="n mu"><rect x="1542" y="913" width="82" height="49"/><text class="t" x="1583" y="941.2"><tspan x="1583" dy="-20">Conformidad</tspan><tspan x="1583" dy="13.3">de</tspan><tspan x="1583" dy="13.3">demolición</tspan><tspan x="1583" dy="13.3">parcial</tspan></text><text class="c" x="1583" y="973.8">P.PE.MU.1</text></g>

<!-- Plan de negocios -->
<g id="iec-ne1" class="n ne"><rect x="1738" y="255" width="114" height="51"/><text class="t" x="1795" y="284.2"><tspan x="1795" dy="-13.3">Cronograma</tspan><tspan x="1795" dy="13.3">maestro del</tspan><tspan x="1795" dy="13.3">proyecto</tspan></text><text class="c" x="1796" y="315.5">I.EC.NE.1</text></g>
<g id="iec-ne2" class="n ne"><rect x="1852" y="255" width="114" height="51"/><text class="t" x="1909" y="284.2"><tspan x="1909" dy="-6.6">Firma de opción de</tspan><tspan x="1909" dy="13.3">compra del terreno</tspan></text><text class="c" x="1905" y="315.5">I.EC.NE.2</text></g>
<g id="idd-ne1" class="n ne"><rect x="1795" y="349" width="115" height="51"/><text class="t" x="1852.5" y="378.2"><tspan x="1852.5" dy="-13.3">Identificar y registrar</tspan><tspan x="1852.5" dy="13.3">los riegos del</tspan><tspan x="1852.5" dy="13.3">proyecto</tspan></text><text class="c" x="1853" y="410.5">I.DD.NE.1</text></g>
<g id="pap-ne1" class="n ne"><rect x="1795" y="443" width="115" height="52"/><text class="t" x="1852.5" y="472.7"><tspan x="1852.5" dy="-6.6">Validación de</tspan><tspan x="1852.5" dy="13.3">Fachada</tspan></text><text class="c" x="1853" y="507.5">P.AP.NE.1</text></g>
<g id="pap-ne2" class="n ne"><rect x="1795" y="515" width="115" height="52"/><text class="t" x="1852.5" y="544.7">Cuadro de acabados</text><text class="c" x="1856" y="576">P.AP.NE.2</text></g>
<g id="pee-ne1" class="n ne"><rect x="1796" y="610" width="115" height="52"/><text class="t" x="1853.5" y="639.7"><tspan x="1853.5" dy="-6.6">Reportes para</tspan><tspan x="1853.5" dy="13.3">directorio</tspan></text><text class="c" x="1854" y="678.5">P.EE.NE.1</text></g>
<g id="ppe-ne1" class="n ne"><rect x="1732" y="884" width="71" height="41"/><text class="t" x="1767.5" y="908.2"><tspan x="1767.5" dy="-6.6">Muebles</tspan><tspan x="1767.5" dy="13.3">de cocinas</tspan></text><text class="c" x="1768" y="935.5">P.PE.NE.1</text></g>
<g id="ppe-ne1b" class="n ne"><rect x="1803" y="884" width="70" height="41"/><text class="t" x="1838" y="908.2"><tspan x="1838" dy="-6.6">Muebles</tspan><tspan x="1838" dy="13.3">de baños</tspan></text><text class="c" x="1838" y="935.5">P.PE.NE.1</text></g>
<g id="ppe-ne1c" class="n ne"><rect x="1873" y="884" width="70" height="41"/><text class="t" x="1908" y="908.2">Closets</text><text class="c" x="1909" y="935.5">P.PE.NE.1</text></g>
<g id="ppe-ne1d" class="n ne"><rect x="1735" y="944" width="71" height="40"/><text class="t" x="1770.5" y="967.7">Puertas</text><text class="c" x="1771" y="995.5">P.PE.NE.1</text></g>
<g id="ppo-ne1" class="n ne"><rect x="1800" y="1064" width="108" height="47"/><text class="t" x="1854" y="1091.2"><tspan x="1854" dy="-6.6">Reportes de</tspan><tspan x="1854" dy="13.3">directorio</tspan></text><text class="c" x="1854" y="1125">P.PO.NE.1</text></g>
<g id="cpo-ne1" class="n ne"><rect x="1803" y="1312" width="110" height="53"/><text class="t" x="1858" y="1342.2"><tspan x="1858" dy="-6.6">Independización</tspan><tspan x="1858" dy="13.3">catastral</tspan></text><text class="c" x="1858" y="1378.7">C.PO.NE.1</text></g>
<g id="rpo-ne1" class="n ne"><rect x="1803" y="1452" width="107" height="47"/><text class="t" x="1856.5" y="1479.2"><tspan x="1856.5" dy="-6.6">Plan de cierre de</tspan><tspan x="1856.5" dy="13.3">negocios</tspan></text><text class="c" x="1848" y="1512.5">R.PO.NE.1</text></g>

<!-- Marketing -->
<g id="pap-mk1" class="n mk"><rect x="2075" y="443" width="116" height="52"/><text class="t" x="2133" y="472.7"><tspan x="2133" dy="-20">Gestión de las</tspan><tspan x="2133" dy="13.3">imágenes</tspan><tspan x="2133" dy="13.3">preliminares del</tspan><tspan x="2133" dy="13.3">proyecto</tspan></text><text class="c" x="2133" y="506">P.AP.MK.1</text></g>
<g id="pap-mk2" class="n mk"><rect x="2078" y="511" width="114" height="52"/><text class="t" x="2135" y="540.7"><tspan x="2135" dy="-6.6">Validación de planos</tspan><tspan x="2135" dy="13.3">comerciales</tspan></text><text class="c" x="2135" y="574.5">P.AP.MK.2</text></g>
<g id="ppm-mk1" class="n mk"><rect x="2071" y="749" width="116" height="48"/><text class="t" x="2129" y="776.7"><tspan x="2129" dy="-20">Reunión de</tspan><tspan x="2129" dy="13.3">planificación de</tspan><tspan x="2129" dy="13.3">lanzamiento</tspan><tspan x="2129" dy="13.3">comercial</tspan></text><text class="c" x="2139" y="808">P.PM.MK.1</text></g>
<g id="ppm-mk2" class="n mk"><rect x="2074" y="811" width="115" height="51"/><text class="t" x="2131.5" y="840.2"><tspan x="2131.5" dy="-20">Desarrollar</tspan><tspan x="2131.5" dy="13.3">imágenes,</tspan><tspan x="2131.5" dy="13.3">perspectivas y Tour</tspan><tspan x="2131.5" dy="13.3">3D</tspan></text><text class="c" x="2145" y="872.5">P.PM.MK.2</text></g>
<g id="ppe-mk1" class="n mk"><rect x="2021" y="881" width="99" height="47"/><text class="t" x="2070.5" y="908.2"><tspan x="2070.5" dy="-20">Validación de</tspan><tspan x="2070.5" dy="13.3">preconstrucción</tspan><tspan x="2070.5" dy="13.3">de la caseta de</tspan><tspan x="2070.5" dy="13.3">ventas</tspan></text><text class="c" x="2076" y="939.5">P.PE.MK.1</text></g>
<g id="ppe-mk3" class="n mk"><rect x="2154" y="881" width="97" height="47"/><text class="t" x="2202.5" y="908.2"><tspan x="2202.5" dy="-13.3">Validación de</tspan><tspan x="2202.5" dy="13.3">planos</tspan><tspan x="2202.5" dy="13.3">comerciales</tspan></text><text class="c" x="2203" y="939.5">P.PE.MK.3</text></g>
<g id="ppe-mk2" class="n mk"><rect x="2024" y="944" width="99" height="46"/><text class="t" x="2073.5" y="970.7"><tspan x="2073.5" dy="-13.3">Caseta de ventas</tspan><tspan x="2073.5" dy="13.3">y departamento</tspan><tspan x="2073.5" dy="13.3">piloto</tspan></text><text class="c" x="2074" y="1001.5">P.PE.MK.2</text></g>
<g id="ppe-mk3b" class="n mk"><rect x="2157" y="944" width="96" height="46"/><text class="t" x="2205" y="970.7"><tspan x="2205" dy="-13.3">Coordinación</tspan><tspan x="2205" dy="13.3">con jefe de</tspan><tspan x="2205" dy="13.3">ventas</tspan></text><text class="c" x="2203" y="1001.5">P.PE.MK.3</text></g>
<g id="rpo-mk1" class="n mk"><rect x="2088" y="1452" width="114" height="50"/><text class="t" x="2145" y="1480.7"><tspan x="2145" dy="-20">Gestión de las</tspan><tspan x="2145" dy="13.3">imágenes</tspan><tspan x="2145" dy="13.3">preliminares del</tspan><tspan x="2145" dy="13.3">proyecto</tspan></text><text class="c" x="2145" y="1518">R.PO.MK.1</text></g>

<!-- Bienestar social (JAPPYTI) -->
<g id="pap-ja1" class="n ja"><rect x="2324" y="443" width="89.5" height="50"/><text class="t" x="2368.8" y="471.7"><tspan x="2368.8" dy="-7">Recorrido</tspan><tspan x="2368.8" dy="14">preliminar</tspan></text><text class="c" x="2370.5" y="504">P.AP.JA.1</text></g>
<g id="pap-ja3" class="n ja"><rect x="2413.5" y="443" width="89.5" height="50"/><text class="t" x="2458.3" y="471.7"><tspan x="2458.3" dy="-14">Registro de</tspan><tspan x="2458.3" dy="14">población</tspan><tspan x="2458.3" dy="14">colindante</tspan></text><text class="c" x="2459" y="504">P.AP.JA.3</text></g>
<g id="pap-ja2" class="n ja"><rect x="2324" y="509" width="89.5" height="51"/><text class="t" x="2368.8" y="538.2"><tspan x="2368.8" dy="-21">Coordinar</tspan><tspan x="2368.8" dy="14">reunión con</tspan><tspan x="2368.8" dy="14">lider de</tspan><tspan x="2368.8" dy="14">urbanización</tspan></text><text class="c" x="2370.5" y="572.5">P.AP.JA.2</text></g>
<g id="pap-ja3b" class="n ja"><rect x="2413.5" y="509" width="89.5" height="51"/><text class="t" x="2458.3" y="538.2"><tspan x="2458.3" dy="-21">Presentación</tspan><tspan x="2458.3" dy="14">del proyecto a</tspan><tspan x="2458.3" dy="14">poblaciones</tspan><tspan x="2458.3" dy="14">colindantes</tspan></text><text class="c" x="2456" y="571.5">P.AP.JA.3</text></g>
<g id="rpo-ja1" class="n ja"><rect x="2279" y="1424" width="101" height="60"/><text class="t" x="2329.5" y="1457.7"><tspan x="2329.5" dy="-21">Convocar Talleres</tspan><tspan x="2329.5" dy="14">de Inducción de</tspan><tspan x="2329.5" dy="14">la vida en</tspan><tspan x="2329.5" dy="14">condominio</tspan></text><text class="c" x="2335" y="1496.8">R.PO.JA.1</text></g>
<g id="rpo-ja2" class="n ja"><rect x="2380" y="1424" width="102" height="60"/><text class="t" x="2431" y="1457.7"><tspan x="2431" dy="-21">Gestionar</tspan><tspan x="2431" dy="14">recursos para</tspan><tspan x="2431" dy="14">talleres y evaluar</tspan><tspan x="2431" dy="14">recomendaciones</tspan></text><text class="c" x="2426" y="1496.8">R.PO.JA.2</text></g>
<g id="rpo-ja3" class="n ja"><rect x="2482" y="1424" width="92" height="60"/><text class="t" x="2528" y="1457.7"><tspan x="2528" dy="-21">Gestionar</tspan><tspan x="2528" dy="14">acompañamien</tspan><tspan x="2528" dy="14">to y cierre</tspan><tspan x="2528" dy="14">JAP PYTI</tspan></text><text class="c" x="2530" y="1496.8">R.PO.JA.3</text></g>
<g id="rpo-ja4" class="n ja"><rect x="2283" y="1499" width="101.5" height="57"/><text class="t" x="2333.8" y="1531.2"><tspan x="2333.8" dy="-21">Coordinar el</tspan><tspan x="2333.8" dy="14">nombramiento de</tspan><tspan x="2333.8" dy="14">representante de</tspan><tspan x="2333.8" dy="14">condiminio</tspan></text><text class="c" x="2333" y="1567.8">R.PO.JA.4</text></g>
<g id="rpo-ja5" class="n ja"><rect x="2384.5" y="1499" width="102" height="57"/><text class="t" x="2435.5" y="1531.2"><tspan x="2435.5" dy="-21">Entrega de</tspan><tspan x="2435.5" dy="14">normas de</tspan><tspan x="2435.5" dy="14">convivencia y</tspan><tspan x="2435.5" dy="14">Buena Vecindad</tspan></text><text class="c" x="2431" y="1567.8">R.PO.JA.5</text></g>
</svg>
